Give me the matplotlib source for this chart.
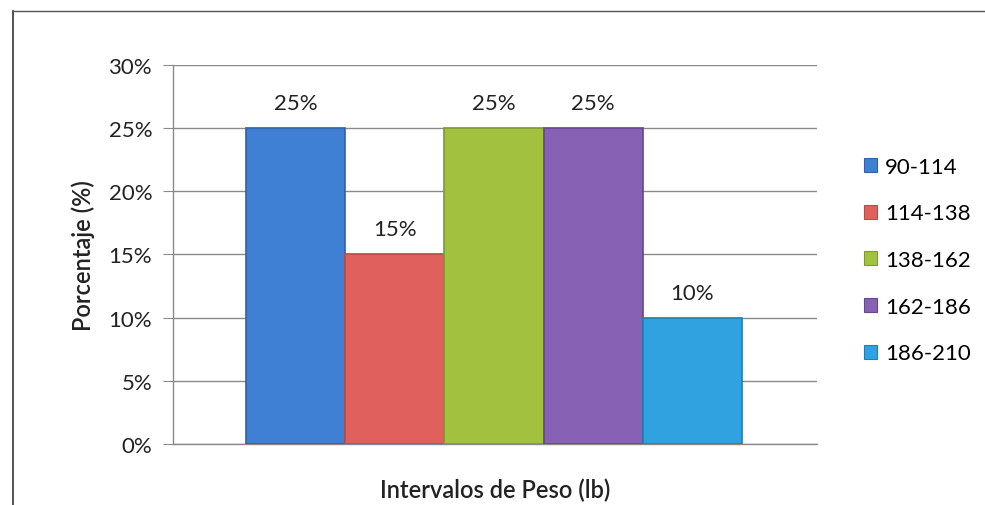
import matplotlib.pyplot as plt
from matplotlib.lines import Line2D
from matplotlib.patches import Patch

plt.rcParams['font.family'] = ['Lato', 'DejaVu Sans']

# datos del grafico
intervalos = ['90-114', '114-138', '138-162', '162-186', '186-210']
porcentajes = [25, 15, 25, 25, 10]
colores = ['#3f7fd4', '#e0605e', '#a2c23f', '#8761b3', '#2fa2df']
bordes = ['#2f62a8', '#b84a48', '#7f9a2c', '#654690', '#1f7fb3']
yticks = [0, 5, 10, 15, 20, 25, 30]

fig = plt.figure(figsize=(9.85, 5.06), dpi=100)
ax = fig.add_axes([0.1756, 0.1206, 0.6538, 0.749])

x = list(range(len(intervalos)))
barras = ax.bar(x, porcentajes, width=1.0, color=colores, edgecolor=bordes,
                linewidth=1.2, zorder=3)

for xi, v in zip(x, porcentajes):
    ax.annotate(f'{v}%', (xi, v), xytext=(0, 18), textcoords='offset points',
                ha='center', va='center', fontsize=16, color='#222222')

ax.set_xlim(-1.24, 5.26)
ax.set_ylim(0, 30)
ax.set_yticks(yticks)
ax.set_yticklabels([f'{t}%' for t in yticks], fontsize=16, color='#222222')
ax.set_xticks([])
ax.yaxis.grid(True, color='#8a8a8a', linewidth=1.0, zorder=0)
ax.tick_params(axis='y', length=7, color='#8a8a8a', pad=8)

for s in ['top', 'right']:
    ax.spines[s].set_visible(False)
for s in ['left', 'bottom']:
    ax.spines[s].set_color('#8a8a8a')
    ax.spines[s].set_linewidth(1.0)

ax.set_ylabel('Porcentaje (%)', fontsize=17, fontweight='semibold', color='#222222',
              labelpad=10)
ax.set_xlabel('Intervalos de Peso (lb)', fontsize=17, fontweight='semibold',
              color='#222222', labelpad=24)

handles = [Patch(facecolor=c, edgecolor=b, linewidth=0.8) for c, b in zip(colores, bordes)]
fig.legend(handles, intervalos, loc='center left', bbox_to_anchor=(0.866, 0.484),
           frameon=False, fontsize=16, handlelength=0.6, handleheight=0.6,
           handletextpad=0.35, labelspacing=1.2, borderpad=0)

# marco exterior
fig.add_artist(Line2D([13 / 985, 13 / 985], [0, 1 - 12 / 506], transform=fig.transFigure,
                      color='#333333', linewidth=1.2))
fig.add_artist(Line2D([13 / 985, 1], [1 - 12 / 506, 1 - 12 / 506], transform=fig.transFigure,
                      color='#555555', linewidth=1.0))

fig.savefig('out.png', dpi=100)
